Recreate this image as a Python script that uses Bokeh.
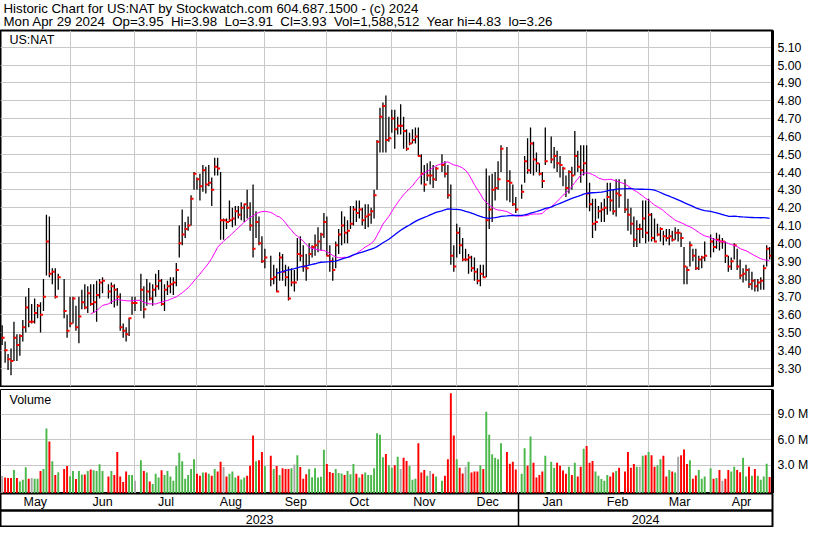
import numpy as np
import pandas as pd
from bokeh.plotting import figure
from bokeh.layouts import column
from bokeh.core.properties import value
from bokeh.models import (Range1d, LinearAxis, FixedTicker, Label, ColumnDataSource,
                          PrintfTickFormatter, NumeralTickFormatter)
from bokeh.embed import file_html
from bokeh.resources import INLINE

# ---------------- data ----------------
first_day = "2023-05-01"
last_day = "2024-04-29"
holidays = ["2023-05-29", "2023-06-19", "2023-07-04", "2023-09-04", "2023-11-23",
            "2023-12-25", "2024-01-01", "2024-01-15", "2024-02-19", "2024-03-29"]

high = [
    3.54, 3.45, 3.38, 3.41, 3.56, 3.49, 3.49, 3.57, 3.70, 3.75, 3.66, 3.69, 3.66, 3.67, 3.80, 4.16, 4.15, 3.86, 3.86, 3.83, 3.80, 3.60,
    3.70, 3.70, 3.65, 3.70, 3.74, 3.77, 3.76, 3.77, 3.77, 3.79, 3.80, 3.81, 3.77, 3.78, 3.77, 3.75, 3.72, 3.55, 3.53, 3.58, 3.70,
    3.70, 3.83, 3.76, 3.80, 3.78, 3.77, 3.83, 3.85, 3.80, 3.77, 3.79, 3.81, 3.81, 3.89, 4.10, 4.19, 4.12, 4.15, 4.27, 4.40,
    4.37, 4.39, 4.44, 4.43, 4.44, 4.37, 4.48, 4.48, 4.40, 4.14, 4.14, 4.24, 4.20, 4.21, 4.21, 4.23, 4.22, 4.30, 4.23, 4.33, 4.18, 4.15, 4.04,
    3.97, 3.93, 3.88, 3.86, 3.95, 3.94, 3.88, 3.87, 3.86, 3.85, 4.03, 4.04, 3.99, 3.94, 4.00, 3.99, 4.05, 4.09, 4.06, 4.17,
    4.15, 3.99, 3.92, 4.01, 4.08, 4.18, 4.15, 4.13, 4.21, 4.21, 4.24, 4.24, 4.20, 4.22, 4.22, 4.20, 4.30, 4.58, 4.76, 4.79, 4.83, 4.71,
    4.75, 4.75, 4.71, 4.78, 4.71, 4.64, 4.62, 4.64, 4.65, 4.65, 4.50, 4.44, 4.45, 4.46, 4.44, 4.43, 4.50, 4.46, 4.44, 4.33, 3.99,
    4.11, 4.09, 4.03, 3.97, 3.94, 3.93, 3.92, 3.86, 3.88, 3.88, 4.42, 4.38, 4.39, 4.40, 4.46, 4.55, 4.54, 4.41, 4.33, 4.26,
    4.33, 4.49, 4.59, 4.65, 4.57, 4.51, 4.45, 4.40, 4.65, 4.60, 4.54, 4.52, 4.49, 4.43, 4.38, 4.41, 4.43, 4.63, 4.52, 4.55, 4.55,
    4.55, 4.34, 4.25, 4.25, 4.21, 4.23, 4.25, 4.34, 4.34, 4.30, 4.36, 4.36, 4.36, 4.25, 4.20, 4.15, 4.13, 4.11, 4.24, 4.24,
    4.25, 4.17, 4.14, 4.11, 4.09, 4.07, 4.08, 4.08, 4.07, 4.09, 4.08, 4.06, 3.98, 3.87, 4.01, 3.97, 3.97, 3.93, 3.93, 4.01,
    4.05, 4.03, 4.06, 4.05, 4.03, 4.01, 3.93, 3.92, 4.00, 3.97, 3.91, 3.86, 3.88, 3.86, 3.84, 3.80, 3.80, 3.81, 3.88, 3.99, 3.98,
]
low = [
    3.43, 3.33, 3.29, 3.26, 3.34, 3.34, 3.37, 3.45, 3.50, 3.53, 3.55, 3.55, 3.58, 3.50, 3.62, 3.82, 3.81, 3.77, 3.69, 3.74, 3.58, 3.47,
    3.53, 3.55, 3.51, 3.44, 3.63, 3.63, 3.61, 3.65, 3.61, 3.56, 3.69, 3.72, 3.69, 3.66, 3.64, 3.65, 3.51, 3.47, 3.45, 3.48, 3.60,
    3.62, 3.62, 3.58, 3.65, 3.68, 3.65, 3.70, 3.74, 3.65, 3.62, 3.71, 3.72, 3.71, 3.76, 3.92, 3.99, 4.03, 4.07, 4.10, 4.30,
    4.30, 4.24, 4.29, 4.28, 4.32, 4.21, 4.38, 4.38, 4.02, 4.02, 4.08, 4.12, 4.09, 4.10, 4.14, 4.13, 4.12, 4.14, 4.07, 3.92, 4.03, 3.99, 3.89,
    3.86, 3.76, 3.77, 3.73, 3.79, 3.79, 3.76, 3.68, 3.76, 3.73, 3.79, 3.90, 3.84, 3.79, 3.88, 3.92, 3.93, 3.95, 3.96, 4.03,
    3.93, 3.84, 3.79, 3.86, 3.94, 3.99, 4.00, 4.00, 4.08, 4.10, 4.12, 4.14, 4.10, 4.08, 4.09, 4.11, 4.14, 4.30, 4.51, 4.51, 4.51, 4.57,
    4.62, 4.53, 4.61, 4.61, 4.53, 4.52, 4.55, 4.56, 4.56, 4.49, 4.33, 4.29, 4.35, 4.33, 4.31, 4.35, 4.40, 4.37, 4.25, 3.88, 3.84,
    3.92, 3.94, 3.90, 3.90, 3.83, 3.84, 3.79, 3.77, 3.76, 3.81, 3.81, 4.08, 4.12, 4.24, 4.30, 4.40, 4.24, 4.23, 4.21, 4.17,
    4.25, 4.34, 4.39, 4.39, 4.38, 4.40, 4.38, 4.31, 4.44, 4.45, 4.42, 4.40, 4.37, 4.32, 4.26, 4.28, 4.30, 4.38, 4.40, 4.34, 4.38,
    4.20, 4.18, 4.03, 4.07, 4.14, 4.12, 4.12, 4.16, 4.18, 4.16, 4.15, 4.20, 4.17, 4.07, 4.05, 3.98, 3.98, 4.00, 4.03, 4.00,
    4.01, 4.01, 4.01, 4.04, 4.01, 3.99, 4.01, 3.99, 4.01, 4.02, 4.01, 3.98, 3.77, 3.77, 3.87, 3.90, 3.85, 3.85, 3.86, 3.90,
    3.92, 3.95, 3.97, 3.96, 3.97, 3.89, 3.84, 3.85, 3.91, 3.85, 3.80, 3.78, 3.79, 3.75, 3.74, 3.73, 3.73, 3.74, 3.74, 3.87, 3.91,
]
close = [
    3.47, 3.40, 3.35, 3.34, 3.47, 3.43, 3.48, 3.53, 3.64, 3.56, 3.56, 3.61, 3.65, 3.60, 3.70, 4.01, 3.83, 3.84, 3.70, 3.81, 3.62, 3.51,
    3.55, 3.69, 3.53, 3.59, 3.67, 3.64, 3.72, 3.66, 3.67, 3.71, 3.78, 3.79, 3.73, 3.76, 3.74, 3.70, 3.53, 3.51, 3.49, 3.58, 3.665,
    3.665, 3.74, 3.63, 3.73, 3.69, 3.74, 3.76, 3.79, 3.66, 3.74, 3.76, 3.77, 3.78, 3.85, 4.00, 4.05, 4.08, 4.10, 4.25, 4.39,
    4.36, 4.32, 4.41, 4.33, 4.34, 4.30, 4.43, 4.42, 4.13, 4.13, 4.12, 4.13, 4.14, 4.18, 4.16, 4.20, 4.22, 4.20, 4.10, 3.97, 4.12, 4.00, 3.90,
    3.92, 3.80, 3.81, 3.73, 3.92, 3.84, 3.81, 3.69, 3.78, 3.78, 3.94, 3.93, 3.87, 3.86, 3.94, 3.98, 3.99, 4.01, 4.05, 4.12,
    3.93, 3.90, 3.85, 3.99, 4.05, 4.10, 4.06, 4.07, 4.11, 4.19, 4.17, 4.19, 4.13, 4.15, 4.16, 4.18, 4.27, 4.57, 4.71, 4.77, 4.58, 4.59,
    4.70, 4.64, 4.66, 4.66, 4.63, 4.53, 4.56, 4.58, 4.60, 4.49, 4.39, 4.33, 4.38, 4.38, 4.36, 4.42, 4.44, 4.39, 4.27, 3.93, 3.87,
    4.06, 3.99, 3.91, 3.91, 3.92, 3.86, 3.84, 3.79, 3.83, 3.81, 4.13, 4.19, 4.30, 4.31, 4.36, 4.53, 4.35, 4.34, 4.22, 4.19,
    4.29, 4.46, 4.41, 4.56, 4.47, 4.45, 4.39, 4.35, 4.46, 4.47, 4.49, 4.45, 4.44, 4.42, 4.31, 4.40, 4.38, 4.49, 4.43, 4.41, 4.45,
    4.28, 4.22, 4.11, 4.12, 4.18, 4.19, 4.20, 4.26, 4.24, 4.18, 4.28, 4.27, 4.19, 4.16, 4.11, 4.02, 4.08, 4.08, 4.14, 4.06,
    4.16, 4.03, 4.01, 4.05, 4.08, 4.04, 4.03, 4.04, 4.02, 4.06, 4.06, 4.03, 3.87, 3.85, 3.99, 3.93, 3.86, 3.91, 3.92, 3.93,
    4.01, 3.98, 4.02, 4.01, 4.01, 3.93, 3.87, 3.90, 3.99, 3.87, 3.82, 3.83, 3.85, 3.77, 3.79, 3.76, 3.78, 3.79, 3.86, 3.97, 3.93,
]
volume_m = [
    1.74, 1.54, 1.47, 1.47, 2.43, 1.47, 1.08, 1.27, 2.74, 1.39, 1.47, 1.39, 1.39, 2.32, 2.55, 7.34, 5.79, 3.47, 1.85, 2.16, 2.55, 2.90,
    1.70, 2.30, 1.35, 2.30, 1.90, 1.90, 2.30, 2.50, 2.40, 2.30, 3.10, 2.30, 1.66, 2.32, 1.85, 4.56, 1.66, 1.00, 2.24, 1.85, 1.85,
    1.16, 3.59, 2.32, 2.12, 1.08, 0.77, 1.97, 1.54, 2.39, 1.85, 2.32, 1.66, 1.16, 2.90, 4.48, 3.47, 1.39, 1.85, 2.55, 3.71,
    1.97, 1.74, 2.12, 2.12, 1.97, 1.74, 2.55, 2.24, 3.40, 2.78, 1.66, 1.97, 2.24, 1.54, 1.74, 1.31, 1.54, 1.74, 2.93, 6.49, 3.47, 3.59, 4.56,
    2.90, 4.10, 2.55, 2.90, 1.85, 2.63, 2.55, 2.55, 2.63, 3.09, 4.17, 2.78, 1.39, 1.93, 2.55, 1.58, 2.63, 1.54, 1.62, 4.83,
    3.13, 2.20, 2.08, 2.55, 2.08, 2.00, 1.85, 2.32, 1.93, 3.13, 1.97, 1.54, 1.93, 2.12, 1.85, 1.85, 2.63, 6.76, 6.60, 3.94, 4.32, 3.00,
    2.70, 3.00, 4.00, 2.55, 3.86, 3.50, 2.90, 1.27, 1.39, 5.60, 2.12, 2.43, 1.74, 2.30, 1.97, 1.66, 1.16, 1.74, 3.70, 11.50, 6.50,
    3.70, 2.70, 2.00, 2.80, 3.40, 2.12, 2.24, 2.24, 3.00, 2.55, 9.30, 6.60, 4.30, 3.86, 3.70, 5.60, 4.56, 3.17, 3.40, 2.50,
    1.97, 5.00, 2.93, 6.40, 3.28, 1.54, 1.85, 2.24, 4.10, 3.40, 2.70, 3.28, 2.93, 2.36, 1.97, 2.82, 1.85, 3.28, 1.66, 2.82, 4.94,
    5.25, 3.28, 3.50, 2.24, 1.74, 1.35, 1.16, 1.85, 1.66, 2.12, 2.32, 2.70, 2.24, 4.56, 2.70, 3.13, 2.82, 2.82, 4.10, 4.17,
    4.56, 4.17, 2.82, 3.00, 3.71, 4.10, 1.66, 2.43, 2.24, 2.12, 3.98, 4.17, 4.86, 3.13, 3.59, 1.39, 1.78, 2.43, 1.39, 1.66,
    2.63, 1.39, 1.47, 2.43, 1.16, 1.39, 2.43, 2.24, 2.82, 2.43, 2.16, 3.86, 1.66, 2.82, 1.74, 2.55, 1.74, 1.27, 1.66, 3.17, 1.59,
]
ma_short_days = 30
ma_long_days = 90

price_ticks = [3.30, 3.40, 3.50, 3.60, 3.70, 3.80, 3.90, 4.00, 4.10, 4.20, 4.30, 4.40,
               4.50, 4.60, 4.70, 4.80, 4.90, 5.00, 5.10]
volume_ticks = [3.0, 6.0, 9.0]
month_names = ["May", "Jun", "Jul", "Aug", "Sep", "Oct", "Nov", "Dec", "Jan", "Feb", "Mar", "Apr"]
year_names = ["2023", "2024"]

title_1 = "Historic Chart for US:NAT by Stockwatch.com 604.687.1500 - (c) 2024"
title_2 = ("Mon Apr 29 2024\u00a0 Op=3.95\u00a0 Hi=3.98\u00a0 Lo=3.91\u00a0 Cl=3.93\u00a0 "
           "Vol=1,588,512\u00a0 Year hi=4.83\u00a0 lo=3.26")
symbol = "US:NAT"

# ---------------- derived positions ----------------
start = np.datetime64(first_day)
days = pd.bdate_range(first_day, last_day)
days = days[~days.isin(pd.to_datetime(holidays))]
k = np.busday_count(start, days.values.astype("datetime64[D]")).astype(float)

X_LO, X_HI = -0.56, 260.97
firsts = pd.date_range("2023-06-01", "2024-04-01", freq="MS").values.astype("datetime64[D]")
month_starts = np.busday_count(start, firsts).astype(float).tolist()
bounds = [X_LO] + month_starts + [X_HI]
month_centers = [(a + b) / 2 for a, b in zip(bounds[:-1], bounds[1:])]
year_break = float(np.busday_count(start, np.datetime64("2024-01-01")))
year_centers = [(X_LO + year_break) / 2, (year_break + X_HI) / 2]

c = pd.Series(close)
ma_s = c.rolling(ma_short_days).mean()
ma_l = c.rolling(ma_long_days).mean()
diff = c.diff().fillna(0).round(4)
colors = ["#4cb84c" if d > 0 else ("#ff0000" if d < 0 else "#a8a8a8") for d in diff]

src = ColumnDataSource(dict(k=k, kc=k + 0.33, high=high, low=low, close=close,
                            vol=volume_m, color=colors, ma_s=ma_s, ma_l=ma_l))

FONT = "Liberation Sans"
GRID = "#c8c8c8"
FW = 772
RB = 41

xr = Range1d(X_LO, X_HI)


def base_fig(fh, yr, top, bottom, outline_w):
    f = figure(frame_width=FW, frame_height=fh, x_range=xr, y_range=yr,
               x_axis_location=None, y_axis_location=None, toolbar_location=None,
               output_backend="svg", min_border_left=0, min_border_right=RB,
               min_border_top=top, min_border_bottom=bottom,
               outline_line_color="black", outline_line_width=outline_w)
    return f


def right_axis(ticks, fmt):
    return LinearAxis(ticker=FixedTicker(ticks=ticks), formatter=fmt,
                      major_tick_out=0, major_tick_in=0, minor_tick_out=0, minor_tick_in=0,
                      axis_line_width=3, axis_line_color="black", major_label_standoff=5,
                      major_label_text_font=FONT, major_label_text_font_size="12.3px",
                      major_label_text_color="black")


# ---------------- header ----------------
h = figure(frame_width=FW + RB, frame_height=29, x_axis_location=None, y_axis_location=None,
           toolbar_location=None, output_backend="svg", min_border=0, outline_line_color=None)
h.grid.visible = False
h.add_layout(Label(x=3, y=21, x_units="screen", y_units="screen", text=title_1,
                   text_font=FONT, text_font_size="13.3px", text_baseline="middle", text_color="black"))
h.add_layout(Label(x=3, y=8, x_units="screen", y_units="screen", text=title_2,
                   text_font=FONT, text_font_size="13.3px", text_baseline="middle", text_color="black"))

# ---------------- price panel ----------------
PH = 356
p = base_fig(PH, Range1d(3.197, 5.194), 1, 1, 2)
p.xgrid.ticker = FixedTicker(ticks=month_starts)
p.ygrid.ticker = FixedTicker(ticks=price_ticks)
p.grid.grid_line_color = GRID
p.add_layout(right_axis(price_ticks, NumeralTickFormatter(format="0.00")), "right")
p.segment(x0="k", y0="low", x1="k", y1="high", source=src, line_color="black", line_width=1.3)
p.rect(x="kc", y="close", width=3, height=2, width_units="screen", height_units="screen",
       source=src, fill_color="#ff0000", line_color=None)
p.line(x="k", y="ma_s", source=src, line_color="#ff00ff", line_width=1)
p.line(x="k", y="ma_l", source=src, line_color="#0000ff", line_width=1.3)
p.add_layout(Label(x=9, y=PH - 9.5, x_units="screen", y_units="screen", text=symbol,
                   text_font=FONT, text_font_size="12.5px", text_baseline="middle", text_color="black"))

# ---------------- volume panel ----------------
VH = 104
v = base_fig(VH, Range1d(-0.35, 11.94), 2, 0, 1)
v.xgrid.ticker = FixedTicker(ticks=month_starts)
v.ygrid.ticker = FixedTicker(ticks=volume_ticks)
v.grid.grid_line_color = GRID
v.vbar(x="k", top="vol", bottom=-0.35, width=0.66, source=src, fill_color="color", line_color=None)
v.add_layout(right_axis(volume_ticks, PrintfTickFormatter(format="%.1f M")), "right")
v.add_layout(Label(x=9, y=VH - 10.5, x_units="screen", y_units="screen", text="Volume",
                   text_font=FONT, text_font_size="12.5px", text_baseline="middle", text_color="black"))

# ---------------- month / year rows ----------------
RH = 33
r = base_fig(RH, Range1d(0, RH), 0, 1, 2)
r.xgrid.ticker = FixedTicker(ticks=[year_break])
r.ygrid.ticker = FixedTicker(ticks=[16])
r.xgrid.grid_line_color = "black"
r.xgrid.grid_line_width = 1.5
r.ygrid.grid_line_color = "black"
r.ygrid.grid_line_width = 2.5
r.text(x=month_centers, y=[24.5] * len(month_names), text=month_names,
       text_align="center", text_baseline="middle", text_color="black",
       text_font=value(FONT), text_font_size=value("12.5px"))
r.text(x=year_centers, y=[7.5] * len(year_names), text=year_names,
       text_align="center", text_baseline="middle", text_color="black",
       text_font=value(FONT), text_font_size=value("12.5px"))

layout = column(h, p, v, r, spacing=0)
open("out.html", "w").write(file_html(layout, INLINE))
